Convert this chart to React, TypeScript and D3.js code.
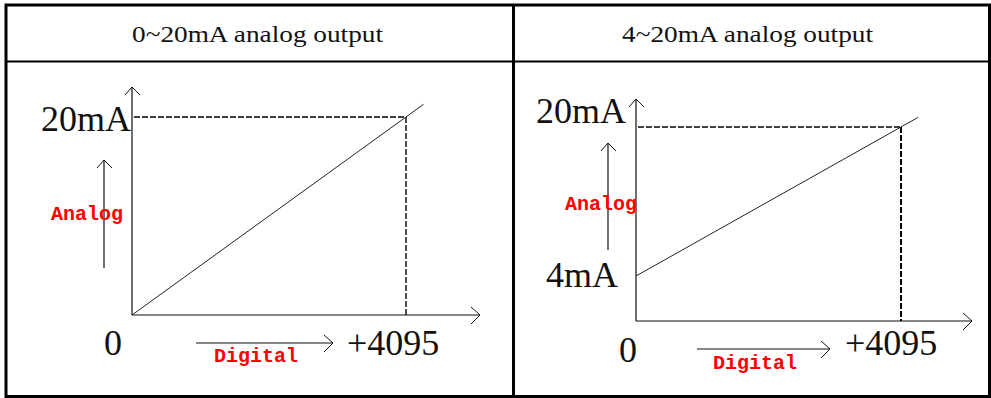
import React from "react";
import * as d3 from "d3";

const panelTitles = ["0~20mA analog output", "4~20mA analog output"];
const currentMin = [0, 4];
const currentMax = [20, 20];
const digitalMax = [4095, 4095];
const yLabelsTop = ["20mA", "20mA"];
const yLabelsBottom = ["", "4mA"];
const xLabelStart = ["0", "0"];
const xLabelEnd = ["+4095", "+4095"];
const axisNameY = "Analog";
const axisNameX = "Digital";
const extend = 1.064;

// layout per panel (pixels)
const layouts = [
  { x0: 132, x1: 406, y0: 315, y1: 117, axisTop: 87, axisRight: 480, xAxisY: 315,
    topLabel: { x: 131, y: 131 }, botLabel: null,
    smallArrow: { x: 104, y0: 268, y1: 160 }, analog: { x: 51, y: 220 },
    zero: { x: 104, y: 355 }, end: { x: 347, y: 355 },
    dArrow: { x0: 196, x1: 333, y: 343 }, digital: { x: 214, y: 362 } },
  { x0: 636, x1: 901, y0: 276, y1: 127, axisTop: 99, axisRight: 972, xAxisY: 321,
    topLabel: { x: 626, y: 123 }, botLabel: { x: 618, y: 287 },
    smallArrow: { x: 608, y0: 250, y1: 143 }, analog: { x: 565, y: 210 },
    zero: { x: 619, y: 362 }, end: { x: 845, y: 355 },
    dArrow: { x0: 697, x1: 830, y: 349 }, digital: { x: 713, y: 369 } },
];

const serif = "'Liberation Serif', 'Times New Roman', serif";
const mono = "'Liberation Mono', 'Courier New', monospace";

function ArrowUp({ x, y }: { x: number; y: number }) {
  return <path d={`M${x - 7},${y + 8} L${x},${y} L${x + 8},${y + 8}`} fill="none" stroke="#111" strokeWidth={1} />;
}
function ArrowRight({ x, y }: { x: number; y: number }) {
  return <path d={`M${x - 9},${y - 8} L${x},${y} L${x - 9},${y + 9}`} fill="none" stroke="#111" strokeWidth={1} />;
}

function Panel({ i }: { i: number }) {
  const L = layouts[i];
  const xs = d3.scaleLinear().domain([0, digitalMax[i]]).range([L.x0, L.x1]);
  const ys = d3.scaleLinear().domain([currentMin[i], currentMax[i]]).range([L.y0, L.y1]);
  const line = d3.line<[number, number]>().x((d) => xs(d[0])).y((d) => ys(d[1]));
  const slope = (currentMax[i] - currentMin[i]) / digitalMax[i];
  const pts: [number, number][] = [
    [0, currentMin[i]],
    [digitalMax[i] * extend, currentMin[i] + slope * digitalMax[i] * extend],
  ];
  const yAxisX = xs(0);
  return (
    <g>
      <line x1={yAxisX} y1={L.xAxisY} x2={yAxisX} y2={L.axisTop} stroke="#111" strokeWidth={1.2} />
      <ArrowUp x={yAxisX} y={L.axisTop} />
      <line x1={yAxisX} y1={L.xAxisY} x2={L.axisRight} y2={L.xAxisY} stroke="#111" strokeWidth={1.2} />
      <ArrowRight x={L.axisRight} y={L.xAxisY} />
      <line x1={yAxisX + 2} y1={ys(currentMax[i])} x2={xs(digitalMax[i])} y2={ys(currentMax[i])}
        stroke="#000" strokeWidth={1.6} strokeDasharray="6,2" />
      <line x1={xs(digitalMax[i])} y1={ys(currentMax[i])} x2={xs(digitalMax[i])} y2={L.xAxisY}
        stroke="#000" strokeWidth={i === 0 ? 1.4 : 2} strokeDasharray="6,2" />
      <path d={line(pts) || ""} fill="none" stroke="#222" strokeWidth={1} />
      <text x={L.topLabel.x} y={L.topLabel.y} textAnchor="end" fontFamily={serif} fontSize={36} fill="#111">
        {yLabelsTop[i]}
      </text>
      {yLabelsBottom[i] && L.botLabel && (
        <text x={L.botLabel.x} y={L.botLabel.y} textAnchor="end" fontFamily={serif} fontSize={36} fill="#111">
          {yLabelsBottom[i]}
        </text>
      )}
      <line x1={L.smallArrow.x} y1={L.smallArrow.y0} x2={L.smallArrow.x} y2={L.smallArrow.y1} stroke="#111" strokeWidth={1.2} />
      <ArrowUp x={L.smallArrow.x} y={L.smallArrow.y1} />
      <text x={L.analog.x} y={L.analog.y} fontFamily={mono} fontWeight="bold" fontSize={20} fill="#ff0000">
        {axisNameY}
      </text>
      <text x={L.zero.x} y={L.zero.y} fontFamily={serif} fontSize={36} fill="#111">
        {xLabelStart[i]}
      </text>
      <text x={L.end.x} y={L.end.y} fontFamily={serif} fontSize={36} fill="#111">
        {xLabelEnd[i]}
      </text>
      <line x1={L.dArrow.x0} y1={L.dArrow.y} x2={L.dArrow.x1} y2={L.dArrow.y} stroke="#111" strokeWidth={1.2} />
      <ArrowRight x={L.dArrow.x1} y={L.dArrow.y} />
      <text x={L.digital.x} y={L.digital.y} fontFamily={mono} fontWeight="bold" fontSize={20} fill="#ff0000">
        {axisNameX}
      </text>
    </g>
  );
}

export default function App() {
  const W = 991;
  const H = 398;
  const left = 6;
  const right = 989.5;
  const top = 5;
  const bottom = 396.5;
  const mid = 513.5;
  const headerY = 61.5;
  const headerCenters = [257.5, 747.5];
  return (
    <svg width={W} height={H} style={{ position: "absolute", left: 0, top: 0, background: "#fff" }}>
      <rect x={0} y={0} width={W} height={H} fill="#fff" />
      {panelTitles.map((t, i) => (
        <text key={t} x={headerCenters[i]} y={42} textAnchor="middle" fontFamily={serif} fontSize={23}
          textLength={251} lengthAdjust="spacingAndGlyphs" fill="#111">
          {t}
        </text>
      ))}
      {panelTitles.map((_, i) => (
        <Panel key={i} i={i} />
      ))}
      <rect x={left} y={top} width={right - left} height={bottom - top} fill="none" stroke="#000" strokeWidth={3} />
      <line x1={mid} y1={top} x2={mid} y2={bottom} stroke="#000" strokeWidth={3} />
      <line x1={left} y1={headerY} x2={right} y2={headerY} stroke="#000" strokeWidth={2} />
    </svg>
  );
}
